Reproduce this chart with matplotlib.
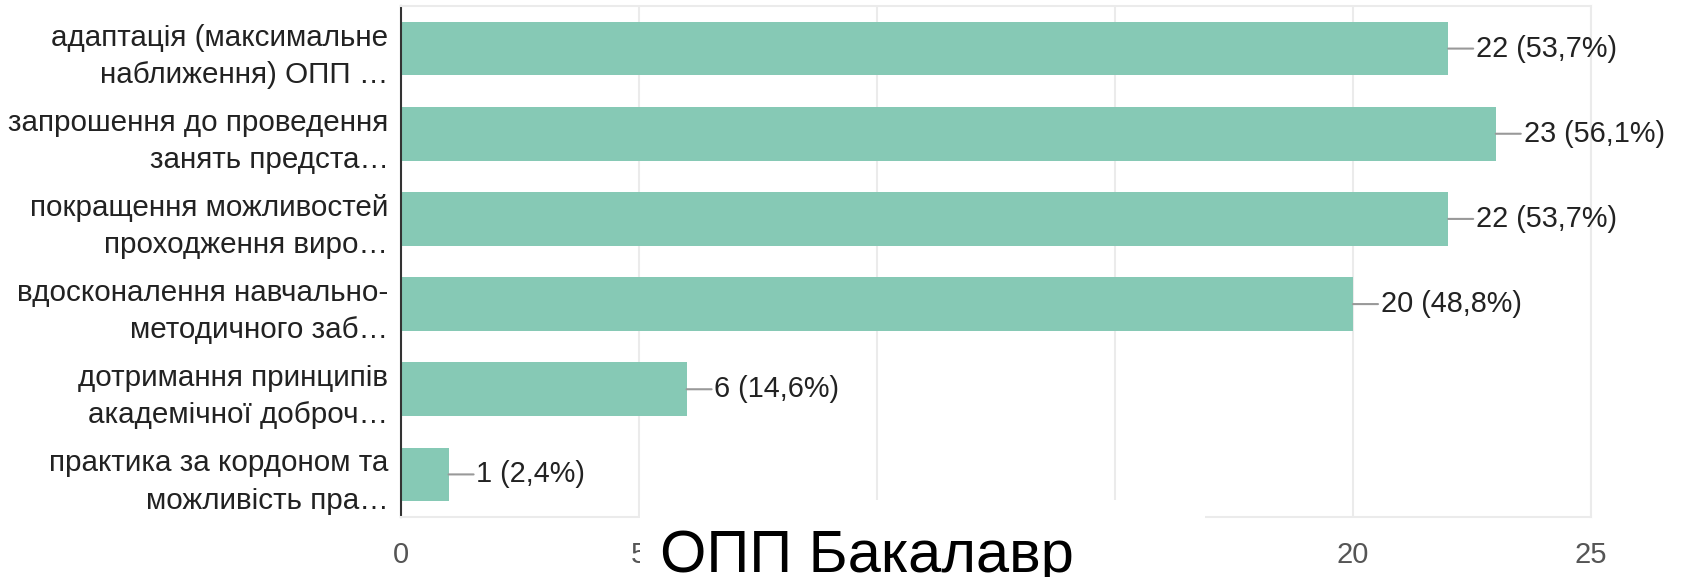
import matplotlib.pyplot as plt
from matplotlib.patches import Rectangle

categories = [
    "адаптація (максимальне\nнаближення) ОПП …",
    "запрошення до проведення\nзанять предста…",
    "покращення можливостей\nпроходження виро…",
    "вдосконалення навчально-\nметодичного заб…",
    "дотримання принципів\nакадемічної доброч…",
    "практика за кордоном та\nможливість пра…",
]
counts = [22, 23, 22, 20, 6, 1]
percents = ["53,7", "56,1", "53,7", "48,8", "14,6", "2,4"]
xticks = [0, 5, 10, 15, 20, 25]
title = "ОПП Бакалавр"

plt.rcParams["font.family"] = ["Liberation Sans", "DejaVu Sans"]

fig = plt.figure(figsize=(16.82, 5.77), dpi=100)
ax = fig.add_axes([401 / 1682, 1 - 517 / 577, 1190 / 1682, 511 / 577])

ypos = list(range(len(categories)))
ax.barh(ypos, counts, height=0.63, color="#86c9b5", zorder=2)

for y, c, p in zip(ypos, counts, percents):
    ax.annotate(
        f"{c} ({p}%)", xy=(c, y), xytext=(20, 0), textcoords="offset points",
        va="center", ha="left", fontsize=20.8, color="#222222",
        arrowprops=dict(arrowstyle="-", color="#999999", lw=1.5,
                        shrinkA=0, shrinkB=0),
        annotation_clip=False, zorder=3,
    )

ax.set_xlim(0, 25)
ax.set_ylim(len(categories) - 0.5, -0.5)
ax.set_xticks(xticks)
ax.set_yticks(ypos)
ax.set_yticklabels(categories, fontsize=21.3, color="#222222", linespacing=1.42)
ax.tick_params(axis="y", length=0, pad=9)
ax.tick_params(axis="x", length=0, pad=17, labelsize=21, labelcolor="#555555")
ax.grid(axis="x", color="#ebebeb", lw=1.5, zorder=0)
ax.set_axisbelow(True)
for side in ["top", "right", "bottom"]:
    ax.spines[side].set_color("#ebebeb")
    ax.spines[side].set_linewidth(1.5)
ax.spines["left"].set_color("#333333")
ax.spines["left"].set_linewidth(1.5)

# white block over the axis labels with the big caption on it
fig.patches.append(Rectangle((640 / 1682, 0), 565 / 1682, 77 / 577,
                             transform=fig.transFigure, facecolor="white",
                             edgecolor="none", zorder=10))
fig.text(867 / 1682, 1 - 572 / 577, title, fontsize=42.8, color="black",
         ha="center", va="baseline", zorder=11)

fig.savefig("out.png", dpi=100)
